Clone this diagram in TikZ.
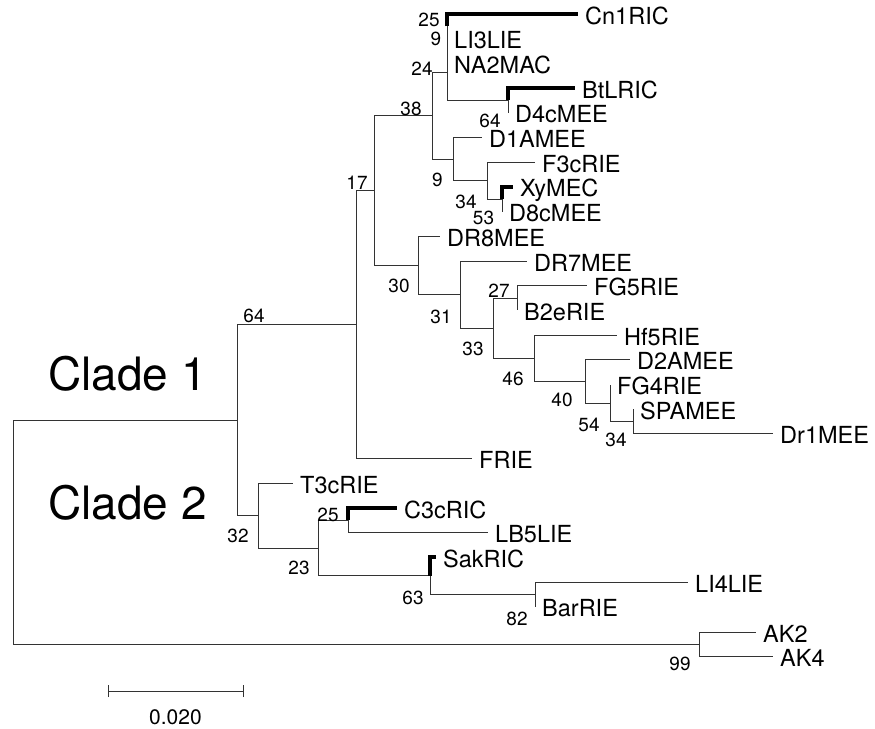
\documentclass[tikz,border=0pt]{standalone}
\usepackage{fontspec}
\setmainfont{TeX Gyre Heros}
\usetikzlibrary{positioning}

\begin{document}
\begin{tikzpicture}[x=1pt,y=-1pt,
  br/.style={line width=0.9pt,black!80},
  thk/.style={line width=4pt,black},
  tip/.style={anchor=west,inner xsep=7pt,inner ysep=0pt,font=\fontsize{23.5}{26}\selectfont,
    execute at begin node={\setbox0=\hbox\bgroup},
    execute at end node={\egroup\raisebox{-2.5pt}[15pt][0pt]{\box0}}},
  bs/.style={inner sep=0pt,text height=13.5pt,text depth=0pt,font=\fontsize{19}{22}\selectfont},
  clade/.style={anchor=base east,inner sep=0pt,font=\fontsize{46}{52}\selectfont}
]
\useasboundingbox (0,0) rectangle (875,728);
% internal nodes
\coordinate (n25a) at (447,26.35);
\coordinate (n9a) at (447,44.9);
\coordinate (n24) at (447,72.7);
\coordinate (n64a) at (508,100.45);
\coordinate (n53) at (502,199.25);
\coordinate (n34a) at (487,180.7);
\coordinate (n9b) at (453,159.1);
\coordinate (n38) at (432,115.9);
\coordinate (n27) at (517,298);
\coordinate (n34b) at (633,421.6);
\coordinate (n54) at (610,403);
\coordinate (n40) at (585,381.4);
\coordinate (n46) at (534,358.3);
\coordinate (n33) at (493,328.2);
\coordinate (n31) at (460,294.6);
\coordinate (n30) at (418,265.5);
\coordinate (n17) at (374,190.7);
\coordinate (n64b) at (356,324.6);
\coordinate (n25b) at (348,520.4);
\coordinate (n82) at (535,594.5);
\coordinate (n63) at (430,575.9);
\coordinate (n23) at (318,548.2);
\coordinate (n32) at (258,515.8);
\coordinate (nclade) at (237,420.2);
\coordinate (nak) at (699,644);
\coordinate (root) at (13,532);
% leaves
\node[tip] (Cn1RIC) at (578,14) {Cn1RIC};
\node[tip] (LI3LIE) at (447,38.7) {LI3LIE};
\node[tip] (NA2MAC) at (447,63.4) {NA2MAC};
\node[tip] (BtLRIC) at (575,88.1) {BtLRIC};
\node[tip] (D4cMEE) at (508,112.8) {D4cMEE};
\node[tip] (D1AMEE) at (482,137.5) {D1AMEE};
\node[tip] (F3cRIE) at (535,162.2) {F3cRIE};
\node[tip] (XyMEC) at (513,186.9) {XyMEC};
\node[tip] (D8cMEE) at (502,211.6) {D8cMEE};
\node[tip] (DR8MEE) at (440,236.3) {DR8MEE};
\node[tip] (DR7MEE) at (527,261) {DR7MEE};
\node[tip] (FG5RIE) at (587,285.7) {FG5RIE};
\node[tip] (B2eRIE) at (517,310.4) {B2eRIE};
\node[tip] (Hf5RIE) at (617,335.1) {Hf5RIE};
\node[tip] (D2AMEE) at (630,359.8) {D2AMEE};
\node[tip] (FG4RIE) at (610,384.5) {FG4RIE};
\node[tip] (SPAMEE) at (633,409.2) {SPAMEE};
\node[tip] (Dr1MEE) at (773,433.9) {Dr1MEE};
\node[tip] (FRIE) at (472,458.6) {FRIE};
\node[tip] (T3cRIE) at (293,483.3) {T3cRIE};
\node[tip] (C3cRIC) at (397,508) {C3cRIC};
\node[tip] (LB5LIE) at (488,532.7) {LB5LIE};
\node[tip] (SakRIC) at (436,557.4) {SakRIC};
\node[tip] (LI4LIE) at (688,582.1) {LI4LIE};
\node[tip] (BarRIE) at (535,606.8) {BarRIE};
\node[tip] (AK2) at (756,632) {AK2};
\node[tip] (AK4) at (773,656) {AK4};
% branches
\draw[br] (root) |- (nclade);
\draw[br] (root) |- (nak);
\draw[br] (nclade) |- (n64b);
\draw[br] (nclade) |- (n32);
\draw[br] (n64b) |- (n17);
\draw[br] (n64b) |- (FRIE.west);
\draw[br] (n17) |- (n38);
\draw[br] (n17) |- (n30);
\draw[br] (n38) |- (n24);
\draw[br] (n38) |- (n9b);
\draw[br] (n24) |- (n9a);
\draw[br] (n24) |- (n64a);
\draw[br] (n9a) |- (n25a);
\draw[br] (n9a) |- (NA2MAC.west);
\draw[br] (n25a) |- (LI3LIE.west);
\draw[br] (n64a) |- (D4cMEE.west);
\draw[br] (n9b) |- (D1AMEE.west);
\draw[br] (n9b) |- (n34a);
\draw[br] (n34a) |- (F3cRIE.west);
\draw[br] (n34a) |- (n53);
\draw[br] (n53) |- (D8cMEE.west);
\draw[br] (n30) |- (DR8MEE.west);
\draw[br] (n30) |- (n31);
\draw[br] (n31) |- (DR7MEE.west);
\draw[br] (n31) |- (n33);
\draw[br] (n33) |- (n27);
\draw[br] (n33) |- (n46);
\draw[br] (n27) |- (FG5RIE.west);
\draw[br] (n27) |- (B2eRIE.west);
\draw[br] (n46) |- (Hf5RIE.west);
\draw[br] (n46) |- (n40);
\draw[br] (n40) |- (D2AMEE.west);
\draw[br] (n40) |- (n54);
\draw[br] (n54) |- (FG4RIE.west);
\draw[br] (n54) |- (n34b);
\draw[br] (n34b) |- (SPAMEE.west);
\draw[br] (n34b) |- (Dr1MEE.west);
\draw[br] (n32) |- (T3cRIE.west);
\draw[br] (n32) |- (n23);
\draw[br] (n23) |- (n25b);
\draw[br] (n23) |- (n63);
\draw[br] (n25b) |- (LB5LIE.west);
\draw[br] (n63) |- (n82);
\draw[br] (n82) |- (LI4LIE.west);
\draw[br] (n82) |- (BarRIE.west);
\draw[br] (nak) |- (AK2.west);
\draw[br] (nak) |- (AK4.west);
% thick branches
\draw[thk] (n25a) |- (Cn1RIC.west);
\draw[thk] (n64a) |- (BtLRIC.west);
\draw[thk] (n53) |- (XyMEC.west);
\draw[thk] (n25b) |- (C3cRIC.west);
\draw[thk] (n63) |- (SakRIC.west);
% bootstrap values
\node[bs] (b25a) at (429,19.5) {25};
\node[bs] (b9a) at (436,38.5) {9};
\node[bs] (b24) at (422,69) {24};
\node[bs] (b38) at (411,108.5) {38};
\node[bs] (b64a) at (490,121) {64};
\node[bs] (b9b) at (437.5,180) {9};
\node[bs] (b34a) at (466,202) {34};
\node[bs] (b53) at (483.5,217.5) {53};
\node[bs] (b17) at (357,183) {17};
\node[bs] (b30) at (399,286) {30};
\node[bs] (b31) at (441,316.5) {31};
\node[bs] (b27) at (499,290.5) {27};
\node[bs] (b33) at (473,349) {33};
\node[bs] (b46) at (513,378.5) {46};
\node[bs] (b40) at (562,400) {40};
\node[bs] (b54) at (589,425) {54};
\node[bs] (b34b) at (616,440) {34};
\node[bs] (b64b) at (254,316) {64};
\node[bs] (b32) at (238,536) {32};
\node[bs] (b25b) at (328,514.5) {25};
\node[bs] (b23) at (299,567.5) {23};
\node[bs] (b63) at (413,597.5) {63};
\node[bs] (b82) at (517,619) {82};
\node[bs] (b99) at (680,664) {99};
% clades
\node[clade] (clade1) at (207,390) {Clade 1};
\node[clade] (clade2) at (207,519) {Clade 2};
% scale bar
\coordinate (sbl) at (108,691);
\coordinate (sbr) at (243,691);
\draw[br] (sbl) -- (sbr);
\draw[br] ([yshift=-6pt]sbl) -- ([yshift=6pt]sbl);
\draw[br] ([yshift=-6pt]sbr) -- ([yshift=6pt]sbr);
\node[bs,font=\fontsize{21}{24}\selectfont,text height=15pt] (sblab) at (175.5,717) {0.020};
\end{tikzpicture}
\end{document}
